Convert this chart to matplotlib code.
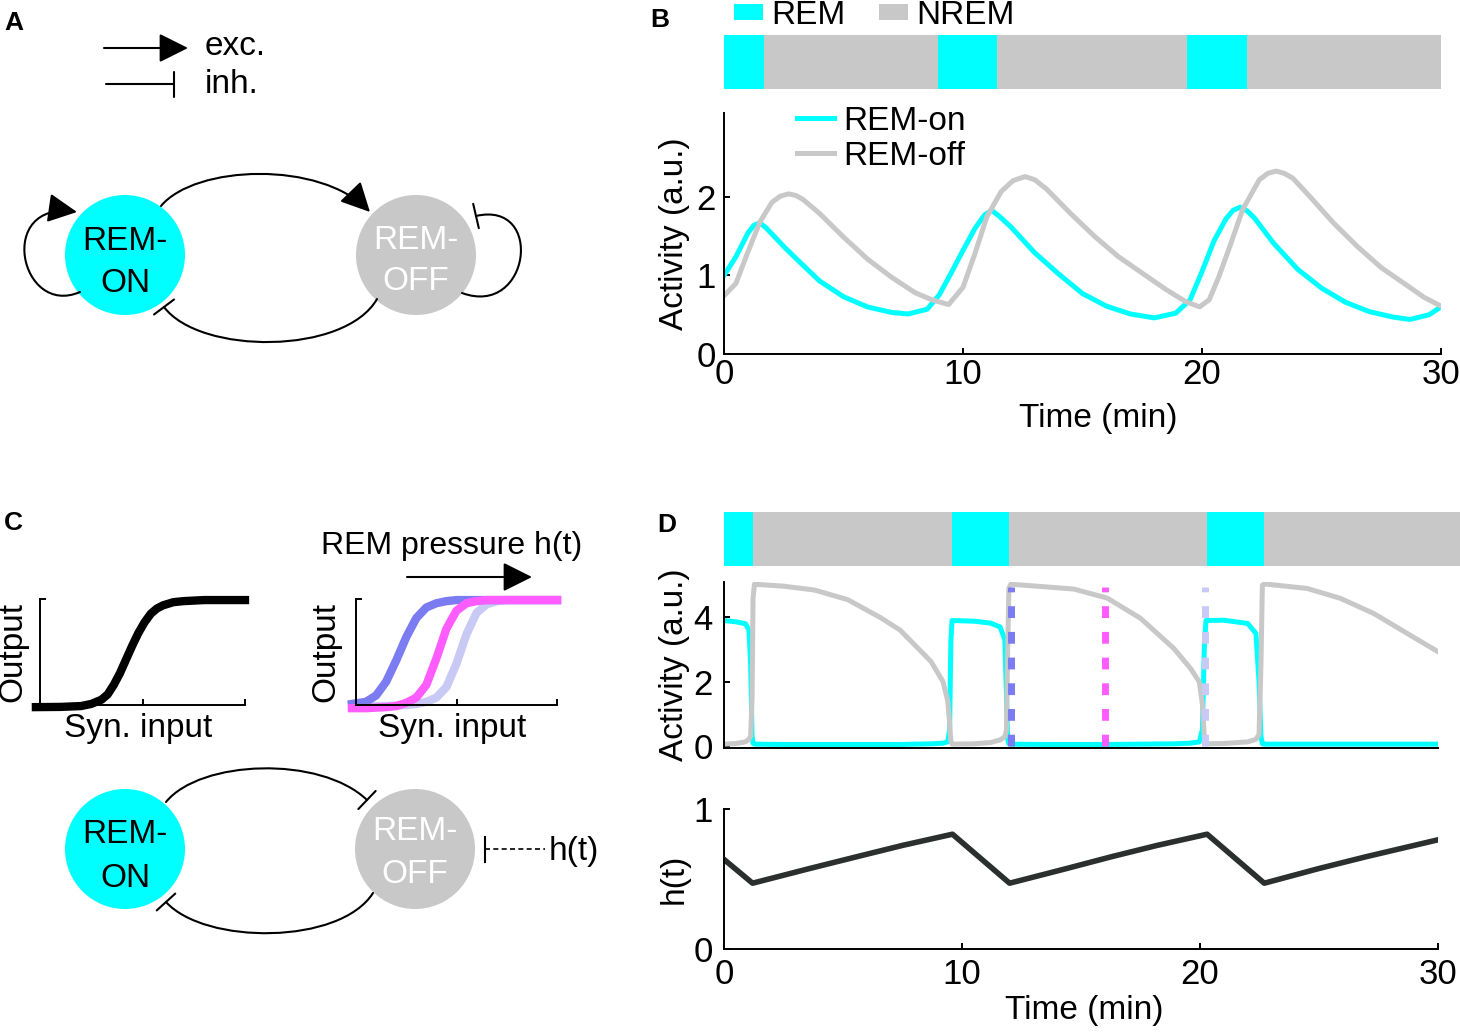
import matplotlib
matplotlib.use("Agg")
import matplotlib.pyplot as plt
from matplotlib.patches import Circle, FancyArrowPatch, Patch
from matplotlib.path import Path

plt.rcParams['font.family'] = ['Liberation Sans', 'DejaVu Sans']

CYAN = '#00ffff'
GRAY = '#c8c8c8'
BLUE = '#7b7bf2'
MAGENTA = '#ff5cff'
LAVENDER = '#c9c9f6'
DARK = '#2b302f'

# ---- panel B data ----
b_rem_start = [0.0, 8.95, 19.36]
b_rem_end = [1.66, 11.43, 21.9]
b_session_end = 30.0

b_time_on = [0, 0.5, 1.0, 1.25, 1.5, 1.75, 2.0, 2.5, 3, 4, 5, 6, 7, 7.7, 8.5, 9, 9.5, 10, 10.5, 10.9,
             11.2, 11.5, 12, 13, 14, 15, 16, 17, 18, 18.9, 19.5, 20, 20.5, 21, 21.3, 21.6, 21.9, 22.2,
             23, 24, 25, 26, 27, 28, 28.7, 29.5, 30]
b_rem_on = [1.00, 1.24, 1.54, 1.64, 1.67, 1.61, 1.53, 1.37, 1.22, 0.93, 0.73, 0.60, 0.53, 0.51, 0.57, 0.75,
            1.03, 1.32, 1.60, 1.77, 1.83, 1.76, 1.62, 1.29, 1.02, 0.77, 0.61, 0.51, 0.46, 0.52, 0.69, 1.05,
            1.44, 1.72, 1.83, 1.87, 1.82, 1.73, 1.41, 1.08, 0.84, 0.66, 0.54, 0.47, 0.44, 0.50, 0.60]

b_time_off = [0, 0.5, 1.0, 1.5, 2.0, 2.35, 2.7, 3.0, 3.3, 4.0, 5.0, 6.0, 7.0, 8.0, 8.7, 9.4, 10.0, 10.5,
              11.0, 11.6, 12.1, 12.6, 13.0, 13.5, 14.5, 15.5, 16.5, 17.5, 18.5, 19.3, 19.9, 20.3, 20.7,
              21.2, 21.7, 22.4, 22.75, 23.1, 23.45, 23.8, 24.5, 25.5, 26.5, 27.5, 28.5, 29.3, 30]
b_rem_off = [0.74, 0.90, 1.30, 1.68, 1.93, 2.01, 2.04, 2.02, 1.97, 1.79, 1.49, 1.21, 0.98, 0.78, 0.69, 0.63,
             0.85, 1.28, 1.75, 2.07, 2.21, 2.26, 2.22, 2.10, 1.79, 1.50, 1.24, 1.03, 0.82, 0.67, 0.60, 0.69,
             0.98, 1.40, 1.84, 2.22, 2.30, 2.33, 2.30, 2.24, 2.01, 1.67, 1.37, 1.10, 0.89, 0.72, 0.61]

# ---- panel C data ----
sig_x = [-0.02, 0.1, 0.2, 0.25, 0.3, 0.33, 0.36, 0.39, 0.42, 0.45, 0.48, 0.51, 0.54, 0.57, 0.6, 0.65, 0.7, 0.8, 1.0]
sig_y = [-0.02, -0.018, -0.01, 0.01, 0.05, 0.10, 0.19, 0.30, 0.43, 0.56, 0.68, 0.78, 0.86, 0.91, 0.94, 0.97,
         0.98, 0.99, 0.99]

shift_x = [-0.02, 0.05, 0.1, 0.15, 0.2, 0.25, 0.3, 0.35, 0.4, 0.45, 0.5, 0.55, 0.6, 0.65, 0.7, 0.75, 0.8,
           0.85, 0.9, 0.95, 1.0]
sig_low = [0.01, 0.03, 0.09, 0.22, 0.42, 0.64, 0.82, 0.92, 0.96, 0.98, 0.99, 0.99, 0.99, 0.99, 0.99, 0.99,
           0.99, 0.99, 0.99, 0.99, 0.99]
sig_mid = [-0.03, -0.03, -0.025, -0.02, -0.01, 0.02, 0.07, 0.19, 0.44, 0.72, 0.89, 0.96, 0.98, 0.99, 0.99,
           0.99, 0.99, 0.99, 0.99, 0.99, 0.99]
sig_high = [-0.01, -0.01, -0.01, -0.01, -0.005, 0.0, 0.01, 0.03, 0.07, 0.17, 0.39, 0.67, 0.87, 0.95, 0.98,
            0.99, 0.99, 0.99, 0.99, 0.99, 0.99]

# ---- panel D data ----
d_rem_start = [0.0, 9.57, 20.27]
d_rem_end = [1.23, 11.98, 22.66]
d_session_end = 30.95

d_time = [0.00, 0.50, 0.90, 1.05, 1.12, 1.18, 1.22, 1.28, 2.50, 3.80, 5.20, 6.60, 7.40, 8.00, 8.70, 9.20,
          9.40, 9.48, 9.53, 9.58, 10.50, 11.20, 11.60, 11.80, 11.87, 11.92, 11.97, 12.05, 13.50, 14.70,
          16.10, 17.50, 18.90, 19.60, 19.97, 20.10, 20.18, 20.25, 21.00, 22.00, 22.35, 22.48, 22.56, 22.62,
          22.70, 24.50, 25.90, 27.30, 28.70, 30.00]
d_rem_on = [3.90, 3.86, 3.80, 3.60, 2.50, 0.30, 0.08, 0.05, 0.04, 0.04, 0.04, 0.04, 0.04, 0.05, 0.06, 0.08,
            0.12, 0.50, 3.20, 3.90, 3.88, 3.82, 3.70, 3.30, 1.50, 0.20, 0.06, 0.05, 0.04, 0.04, 0.04, 0.05,
            0.06, 0.08, 0.12, 0.50, 3.00, 3.90, 3.91, 3.81, 3.50, 2.00, 0.30, 0.06, 0.05, 0.05, 0.05, 0.05,
            0.05, 0.05]
d_rem_off = [0.05, 0.07, 0.12, 0.20, 0.30, 1.50, 4.60, 5.03, 4.97, 4.85, 4.55, 3.98, 3.60, 3.15, 2.62, 2.00,
             1.40, 0.70, 0.15, 0.05, 0.06, 0.10, 0.18, 0.28, 0.50, 3.00, 4.90, 5.03, 4.95, 4.88, 4.60, 3.97,
             3.03, 2.41, 1.99, 1.30, 0.30, 0.06, 0.07, 0.12, 0.20, 0.35, 2.50, 5.00, 5.04, 4.90, 4.59, 4.12,
             3.50, 2.93]
d_marks = [12.04, 16.0, 20.2]
d_mark_top = 4.95

h_time = [0, 1.2, 3.6, 5.6, 7.5, 9.6, 12.0, 14.4, 16.3, 18.2, 20.3, 22.7, 25.0, 27.0, 29.0, 30.0]
h_val = [0.64, 0.47, 0.575, 0.66, 0.74, 0.82, 0.47, 0.575, 0.66, 0.74, 0.82, 0.47, 0.575, 0.66, 0.74, 0.78]

W, H = 1460, 1033
fig = plt.figure(figsize=(W / 100, H / 100), dpi=100)


def px_axes(x0, y0, x1, y1):
    return fig.add_axes([x0 / W, 1 - y1 / H, (x1 - x0) / W, (y1 - y0) / H])


def style(ax, xpad=3, ypad=6):
    for s in ('top', 'right'):
        ax.spines[s].set_visible(False)
    for s in ('left', 'bottom'):
        ax.spines[s].set_linewidth(1.4)
    ax.tick_params(direction='in', length=4.5, width=1.4, labelsize=25)
    ax.tick_params(axis='x', pad=xpad)
    ax.tick_params(axis='y', pad=ypad)


def state_bar(ax, starts, ends, total):
    ax.barh(0.5, total, left=0, height=1, color=GRAY, lw=0)
    ax.barh([0.5] * len(starts), [e - s for s, e in zip(starts, ends)], left=starts,
            height=1, color=CYAN, lw=0)
    ax.set_xlim(0, total)
    ax.set_ylim(0, 1)
    ax.axis('off')


# ---- overlay for diagrams (pixel coordinates) ----
ov = fig.add_axes([0, 0, 1, 1])
ov.set_xlim(0, W)
ov.set_ylim(H, 0)
ov.axis('off')

T_BAR = '-[, widthB=0.2, lengthB=0'


def node(cx, cy, color, txt_color, words, baselines):
    ov.add_patch(Circle((cx, cy), 60, color=color, lw=0))
    for s, b in zip(words, baselines):
        ov.text(cx, b, s, ha='center', va='baseline', fontsize=24, color=txt_color)


def curve(pts, style_):
    path = Path(pts, [Path.MOVETO, Path.CURVE4, Path.CURVE4, Path.CURVE4])
    ov.add_patch(FancyArrowPatch(path=path, arrowstyle=style_, mutation_scale=45,
                                 lw=1.5, color='black'))


def straight(p0, p1, style_):
    ov.add_patch(FancyArrowPatch(p0, p1, arrowstyle=style_, mutation_scale=45, lw=1.5,
                                 color='black', shrinkA=0, shrinkB=0))


# panel A
straight((104, 48), (188, 48), '-|>')
straight((106, 84), (174, 84), T_BAR)
ov.text(205, 55, 'exc.', fontsize=24, va='baseline')
ov.text(205, 93, 'inh.', fontsize=24, va='baseline')
node(125, 255, CYAN, 'black', ['REM-', 'ON'], [250, 292])
node(416, 255, GRAY, 'white', ['REM-', 'OFF'], [249, 290])
curve([(161, 206), (195, 165), (320, 160), (370, 212)], '-|>')
curve([(377, 299), (345, 355), (200, 355), (164, 307)], T_BAR)
curve([(80, 292), (20, 318), (-5, 200), (77, 212)], '-|>')
curve([(462, 293), (530, 318), (545, 200), (476, 216)], T_BAR)

# panel C diagram
ov.text(321, 531, 'REM pressure h(t)', fontsize=23, va='top')
straight((407, 577), (532, 577), '-|>')
node(125, 849, CYAN, 'black', ['REM-', 'ON'], [843, 887])
node(415, 849, GRAY, 'white', ['REM-', 'OFF'], [840, 883])
curve([(166, 802), (200, 760), (320, 755), (367, 800)], T_BAR)
curve([(373, 893), (340, 945), (205, 945), (166, 902)], T_BAR)
ov.plot([485, 545], [849, 849], color='black', lw=1.2, ls=(0, (3, 2)))
ov.plot([485, 485], [837, 862], color='black', lw=1.5)
ov.text(549, 860, 'h(t)', fontsize=24, va='baseline')

# panel letters
for letter, x, y in [('A', 4, 11), ('B', 650, 8), ('C', 4, 511), ('D', 657, 513)]:
    fig.text(x / W, 1 - y / H, letter, fontsize=19, fontweight='bold', va='top')

# ---- panel B ----
ax_bbar = px_axes(724, 35, 1441, 89)
state_bar(ax_bbar, b_rem_start, b_rem_end, b_session_end)
ax_bbar.legend(handles=[Patch(facecolor=CYAN, label='REM'), Patch(facecolor=GRAY, label='NREM')],
               loc='center left', bbox_to_anchor=(0.014, 1.36), ncol=2, frameon=False, fontsize=24,
               handlelength=0.88, handleheight=0.33, handletextpad=0.24, columnspacing=1.0,
               borderpad=0, borderaxespad=0)

ax_b = px_axes(724, 113, 1441, 354)
ax_b.plot(b_time_on, b_rem_on, color=CYAN, lw=3.6, label='REM-on')
ax_b.plot(b_time_off, b_rem_off, color=GRAY, lw=3.6, label='REM-off')
ax_b.set_xlim(0, 30)
ax_b.set_ylim(0, 3.07)
ax_b.set_xticks([0, 10, 20, 30])
ax_b.set_yticks([0, 1, 2])
style(ax_b, xpad=3, ypad=6)
ax_b.set_xlabel('Time (min)', fontsize=24)
ax_b.xaxis.set_label_coords(0.522, -0.205)
ax_b.set_ylabel('Activity (a.u.)', fontsize=24)
ax_b.yaxis.set_label_coords(-0.047, 0.5)
ax_b.legend(loc='upper left', bbox_to_anchor=(0.102, 1.03), frameon=False, fontsize=24,
            handlelength=1.1, handletextpad=0.27, labelspacing=0.12, borderpad=0, borderaxespad=0)

# ---- panel C sigmoids ----
ax_c1 = px_axes(40, 599, 245, 705)
ax_c1.plot(sig_x, sig_y, color='black', lw=6, clip_on=False)
ax_c2 = px_axes(356, 599, 557, 705)
ax_c2.plot(shift_x, sig_high, color=LAVENDER, lw=6, clip_on=False)
ax_c2.plot(shift_x, sig_low, color=BLUE, lw=6, clip_on=False)
ax_c2.plot(shift_x, sig_mid, color=MAGENTA, lw=6, clip_on=False)
for ax, lx in [(ax_c1, -0.055), (ax_c2, -0.075)]:
    ax.set_xlim(0, 1)
    ax.set_ylim(0, 1)
    ax.set_xticks([0, 0.5, 1])
    ax.set_yticks([0, 1])
    ax.set_xticklabels([])
    ax.set_yticklabels([])
    style(ax)
    ax.set_xlabel('Syn. input', fontsize=24)
    ax.xaxis.set_label_coords(0.48, -0.08)
    ax.set_ylabel('Output', fontsize=24)
    ax.yaxis.set_label_coords(lx, 0.5)

# ---- panel D ----
ax_dbar = px_axes(724, 512, 1461, 566)
state_bar(ax_dbar, d_rem_start, d_rem_end, d_session_end)

ax_d = px_axes(724, 582, 1438, 748)
ax_d.plot(d_time, d_rem_on, color=CYAN, lw=3.6)
ax_d.plot(d_time, d_rem_off, color=GRAY, lw=3.6)
ax_d.vlines(d_marks, 0, d_mark_top, colors=[BLUE, MAGENTA, LAVENDER], lw=5,
            linestyles=[(0, (1.7, 2.0))])
ax_d.set_xlim(0, 30)
ax_d.set_ylim(-0.07, 5.1)
ax_d.set_xticks([])
ax_d.set_yticks([0, 2, 4])
style(ax_d, ypad=8)
ax_d.set_ylabel('Activity (a.u.)', fontsize=24)
ax_d.yaxis.set_label_coords(-0.048, 0.5)

ax_h = px_axes(724, 809, 1438, 949)
ax_h.plot(h_time, h_val, color=DARK, lw=4)
ax_h.set_xlim(0, 30)
ax_h.set_ylim(0, 1)
ax_h.set_xticks([0, 10, 20, 30])
ax_h.set_yticks([0, 1])
style(ax_h, xpad=6.5, ypad=8)
ax_h.set_xlabel('Time (min)', fontsize=24)
ax_h.xaxis.set_label_coords(0.505, -0.33)
ax_h.set_ylabel('h(t)', fontsize=24)
ax_h.yaxis.set_label_coords(-0.048, 0.5)

fig.savefig('out.png', dpi=100)
